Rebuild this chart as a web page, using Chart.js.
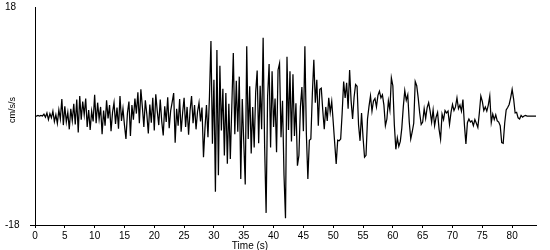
<!DOCTYPE html>
<html>
<head>
<meta charset="utf-8">
<script src="https://cdn.jsdelivr.net/npm/chart.js@4/dist/chart.umd.min.js"></script>
<style>
  html, body { margin: 0; padding: 0; background: #ffffff; }
  #wrap { width: 550px; height: 250px; position: relative; }
</style>
</head>
<body>
<div id="wrap"><canvas id="c" width="550" height="250"></canvas></div>
<script>
// ---- data ----
const sampleInterval = 0.25; // seconds between samples
const accel = [
  0, 0, 0.1, 0, 0.1, 0,
  0.3, -0.2,
  0.5, -0.6, 0.4, -0.3,
  0.8, -0.9, 0.2, -1.2,
  1.0, -0.5, 2.8, -1.5,
  1.6, -1.0, 0.6, -2.2,
  1.2, -0.8, 2.0, -1.4,
  2.7, -2.7, 3.3, -0.6,
  2.4, 0.2, 2.9, -1.8,
  1.0, -2.3, 0.8, -0.9,
  3.5, -1.2, 2.2, -0.5,
  1.5, -3.0, 0.9, -1.6,
  2.6, -0.4, 1.8, -2.5,
  0.6, 2.2, -1.3, 1.4,
  -2.1, 3.3, -0.8, 1.2,
  -1.5, -3.8, 0.5, 2.4,
  -3.3, 1.8, -0.6, 2.9,
  0.4, 3.9, -1.2, 4.4,
  1.5, -1.8, 2.6, 0.3,
  -2.9, 1.9, -1.1, 3.0,
  -2.4, 3.6, 0.8, -1.5,
  2.7, -0.9, -3.2, 1.6,
  -1.0, 3.1, -2.0, 0.9,
  2.3, 3.8, -4.4, 1.2,
  -1.6, 2.8, -2.6, 0.5,
  3.0, -1.8, 1.5, -3.1,
  0.9, 3.3, -1.2, 1.8,
  -2.2, 0.7, 2.2, -0.9,
  1.4, -6.8, -2.0, 1.8,
  -3.5, 3.2, 12.4, -4.6,
  6.0, -12.5, 10.9, -9.8,
  8.3, -2.4, 4.5, -6.5,
  3.8, -7.9, 2.0, -7.1,
  1.6, 10.4, -3.0, 5.8,
  -2.6, 6.5, -10.4, 2.8,
  -4.2, -11.3, 11.5, -3.8,
  4.9, -6.2, 1.5, -5.2,
  3.9, 7.5, -4.5, 5.0,
  -2.2, 12.9, -5.0, -16.0,
  3.2, 8.6, -5.2, 7.4,
  -1.8, 2.9, -6.0, 7.6,
  8.7, -3.5, 2.5, -9.8,
  -16.9, 9.8, -2.3, 7.4,
  -4.2, 6.9, -3.3, 2.1,
  -8.2, -6.5, 1.5, 4.8,
  -2.5, 11.5, -3.0, -10.4,
  -4.0, -3.8, 3.6, 9.3,
  2.2, 6.0, -1.6, 4.4,
  4.6, 0.9, -2.2, 1.5,
  -0.8, 3.0, 0.6, 2.4,
  -1.0, -4.5, -7.9, -4.0,
  -4.1, -3.8, 0.5, 5.7,
  3.0, 5.5, 1.2, 7.6,
  2.5, -0.5, 3.1, 5.2,
  4.9, -1.5, -4.1, 0.5,
  -3.5, -6.8, -6.5, -0.5,
  1.6, 3.3, 0.8, 2.5,
  2.9, 1.5, 3.4, 4.1,
  3.0, 3.5, 1.8, -1.6,
  -0.5, 2.5, 1.0, 6.3,
  5.0, -1.5, -5.5, -3.6,
  -5.0, -4.2, -2.0, 1.5,
  4.2, 2.6, 3.5, -1.0,
  -3.8, -2.6, -1.2, 5.7,
  5.0, 3.0, 0.5, -1.4,
  -1.0, 1.2, -0.4, 1.4,
  2.2, 0.8, -1.0, 1.0,
  -1.6, -0.2, 0.6, -2.2,
  -3.8, 0.3, -0.6, 0.9,
  0.5, 0.8, -1.4, 0.6,
  1.9, 0.9, 1.5, 3.0,
  1.2, 1.8, 0.8, 2.7,
  -1.5, -4.6, -1.1, -0.5,
  -1.0, -0.8, -1.6, -0.6,
  -1.2, -1.9, 0.5, 3.3,
  2.4, 0.9, 1.5, 0.8,
  1.8, 3.3, -1.1, 0.3,
  -0.6, 0.2, -0.8, -1.0,
  -1.6, -4.4, -4.5, -1.2,
  1.0, 1.4, 1.9, 3.0,
  4.4, 2.8, 0.5, 0.6,
  -0.3, -0.5, 0.1, -0.2,
  0.0, 0.1, 0.0, 0.0,
  0.0, 0.0, 0.0, 0.0,
  0.0
];
const xTicks = [0, 5, 10, 15, 20, 25, 30, 35, 40, 45, 50, 55, 60, 65, 70, 75, 80];
const yTicks = [-18, 18];
const xRange = [0, 84];
const yRange = [-18, 18];
const xTitle = 'Time (s)';
const yTitle = 'cm/s/s';

// ---- build points ----
const points = accel.map((v, i) => ({ x: i * sampleInterval, y: v }));

const FONT = 'Liberation Sans, Arial, sans-serif';

const titlesPlugin = {
  id: 'axisTitles',
  afterDraw(chart) {
    const ctx = chart.ctx;
    ctx.save();
    ctx.fillStyle = '#000';
    ctx.font = '10px ' + FONT;
    ctx.textAlign = 'center';
    ctx.textBaseline = 'top';
    ctx.fillText(xTitle, 250, 241);
    ctx.translate(12.5, 110);
    ctx.rotate(-Math.PI / 2);
    ctx.font = '9px ' + FONT;
    ctx.textBaseline = 'middle';
    ctx.fillText(yTitle, 0, 0);
    ctx.restore();
  }
};

new Chart(document.getElementById('c'), {
  type: 'line',
  data: {
    datasets: [{
      data: points,
      borderColor: '#000',
      borderWidth: 1.25,
      pointRadius: 0,
      tension: 0,
      fill: false
    }]
  },
  options: {
    responsive: false,
    animation: false,
    events: [],
    layout: { padding: { left: 5, right: 14, top: 5, bottom: 0 } },
    plugins: { legend: { display: false }, tooltip: { enabled: false } },
    scales: {
      x: {
        type: 'linear',
        min: xRange[0],
        max: xRange[1],
        afterBuildTicks: (s) => { s.ticks = xTicks.map(v => ({ value: v })); },
        afterFit: (s) => { s.height = 25; },
        border: { display: true, color: '#000', width: 1 },
        grid: { display: true, drawOnChartArea: false, drawTicks: true, tickLength: 3, color: '#000' },
        ticks: { color: '#000', font: { family: FONT, size: 10, lineHeight: 1 }, padding: 3, maxRotation: 0, autoSkip: false }
      },
      y: {
        type: 'linear',
        min: yRange[0],
        max: yRange[1],
        afterBuildTicks: (s) => { s.ticks = yTicks.map(v => ({ value: v })); },
        afterFit: (s) => { s.width = 30; },
        border: { display: true, color: '#000', width: 1 },
        grid: {
          display: true, drawOnChartArea: false, drawTicks: true, tickLength: 5,
          color: (c) => (c.tick && c.tick.value === -18) ? '#000' : 'rgba(0,0,0,0)'
        },
        ticks: { color: '#000', crossAlign: 'far', font: { family: FONT, size: 10, lineHeight: 1 }, padding: 2, autoSkip: false }
      }
    }
  },
  plugins: [titlesPlugin]
});
</script>
</body>
</html>
